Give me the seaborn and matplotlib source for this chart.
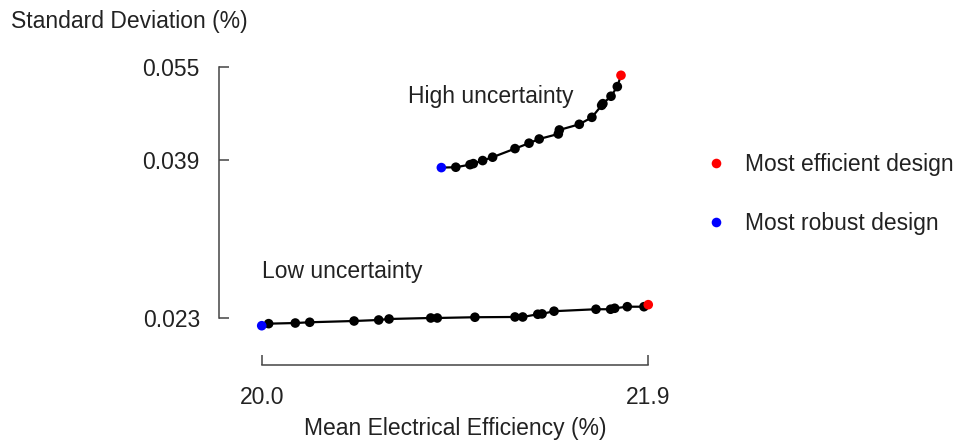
import pandas as pd
import matplotlib
matplotlib.use('Agg')
import matplotlib.pyplot as plt
from matplotlib.ticker import NullLocator, FixedLocator
import seaborn as sns

# high uncertainty front (first = most robust, last = most efficient)
high_eff = [20.883, 20.954, 21.024, 21.040, 21.086, 21.135, 21.245, 21.314, 21.364,
            21.458, 21.463, 21.561, 21.623, 21.671, 21.677, 21.717, 21.748, 21.766]
high_std = [0.03879, 0.03884, 0.03919, 0.03933, 0.03975, 0.04022, 0.04144, 0.04223, 0.04285,
            0.04361, 0.04422, 0.04510, 0.04621, 0.04818, 0.04846, 0.04973, 0.05142, 0.05349]

# low uncertainty front
low_eff = [20.000, 20.034, 20.165, 20.236, 20.454, 20.575, 20.626, 20.831, 20.863, 21.048, 21.245,
           21.283, 21.357, 21.378, 21.437, 21.643, 21.715, 21.735, 21.797, 21.879, 21.900]
low_std = [0.02237, 0.02253, 0.02258, 0.02264, 0.02274, 0.02282, 0.02290, 0.02298, 0.02298, 0.02304, 0.02306,
           0.02306, 0.02328, 0.02331, 0.02353, 0.02369, 0.02369, 0.02377, 0.02390, 0.02390, 0.02407]

x_ticks = [20.0, 21.9]
x_labels = ['20.0', '21.9']
y_ticks = [0.0230, 0.03984, 0.055]
y_labels = ['0.023', '0.039', '0.055']


def build_frame(eff, std, name):
    df = pd.DataFrame({'eff': eff, 'std': std, 'case': name})
    df['design'] = 'Pareto'
    df.loc[0, 'design'] = 'Most robust design'
    df.loc[len(df) - 1, 'design'] = 'Most efficient design'
    return df


df = pd.concat([build_frame(high_eff, high_std, 'high'),
                build_frame(low_eff, low_std, 'low')], ignore_index=True)

sns.set_style('white')
plt.rcParams['font.family'] = ['Liberation Sans', 'DejaVu Sans']
text_color = '#222222'
fs = 16.5

fig = plt.figure(figsize=(9.59, 4.42), dpi=100)
ax = fig.add_axes([0.2287, 0.1742, 0.4595, 0.6900])

for case in ['high', 'low']:
    sub = df[df['case'] == case]
    sns.lineplot(data=sub, x='eff', y='std', color='black', linewidth=1.6,
                 estimator=None, sort=True, ax=ax, legend=False)

pts = df[df['design'] == 'Pareto']
sns.scatterplot(data=pts, x='eff', y='std', color='black', s=48, edgecolor='none',
                ax=ax, legend=False, zorder=3)
ends = df[df['design'] != 'Pareto']
sns.scatterplot(data=ends, x='eff', y='std', hue='design',
                hue_order=['Most efficient design', 'Most robust design'],
                palette={'Most efficient design': '#ff0000', 'Most robust design': '#0000ff'},
                s=48, edgecolor='none', ax=ax, zorder=4)

ax.set_yscale('log')
ax.set_xlim(19.7916, 21.9577)
ax.set_ylim(0.01951, 0.05641)
ax.yaxis.set_minor_locator(NullLocator())
ax.yaxis.set_major_locator(FixedLocator(y_ticks))
ax.set_yticklabels(y_labels)
ax.set_xticks(x_ticks)
ax.set_xticklabels(x_labels)

for side in ['top', 'right']:
    ax.spines[side].set_visible(False)
ax.spines['left'].set_bounds(y_ticks[0], y_ticks[-1])
ax.spines['bottom'].set_bounds(x_ticks[0], x_ticks[-1])
for side in ['left', 'bottom']:
    ax.spines[side].set_color('#444444')
    ax.spines[side].set_linewidth(1.1)

ax.tick_params(axis='both', direction='in', length=7, width=1.1, color='#444444',
               labelsize=fs, labelcolor=text_color, bottom=True, left=True)
ax.tick_params(axis='y', pad=14)
ax.tick_params(axis='x', pad=15)

ax.set_xlabel('Mean Electrical Efficiency (%)', fontsize=fs, color=text_color, va='center')
ax.xaxis.set_label_coords(0.5348, -0.2066)
ax.set_ylabel('Standard Deviation (%)', fontsize=fs, color=text_color, rotation=0,
              ha='left', va='center')
ax.yaxis.set_label_coords(-0.4727, 1.1256)

ax.text(20.72, 0.04966, 'High uncertainty', fontsize=fs, color=text_color, va='center', ha='left')
ax.text(20.0, 0.02700, 'Low uncertainty', fontsize=fs, color=text_color, va='center', ha='left')

handles, labels = ax.get_legend_handles_labels()
leg = ax.legend(handles, labels, loc='center left', bbox_to_anchor=(705 / 959, 1 - 194 / 442),
                bbox_transform=fig.transFigure, frameon=False, fontsize=fs,
                handlelength=1.0, handletextpad=0.73, labelspacing=1.6, borderpad=0,
                borderaxespad=0)
for t in leg.get_texts():
    t.set_color(text_color)

fig.savefig('out.png', dpi=100)
plt.close(fig)
